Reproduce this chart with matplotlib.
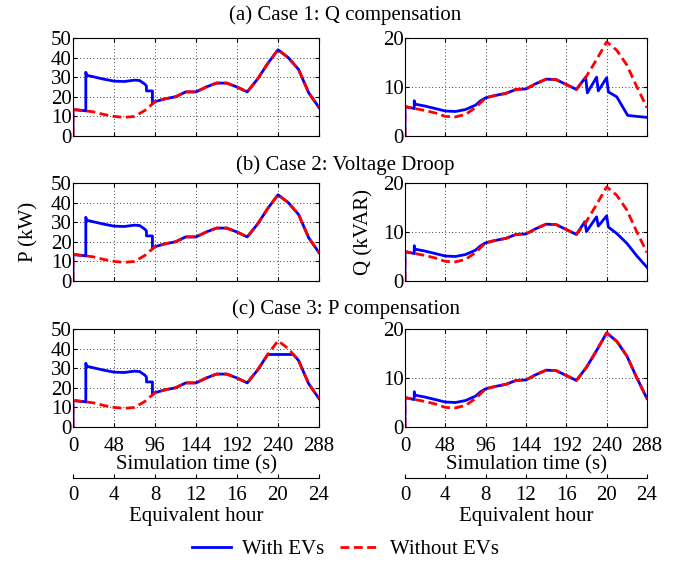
import numpy as np
import matplotlib
matplotlib.use('Agg')
import matplotlib.pyplot as plt

plt.rcParams['font.family'] = ['Liberation Serif', 'DejaVu Serif']
plt.rcParams['font.size'] = 15

# Simulation time (s); 12 s = 1 equivalent hour
t_base = [0, 0, 12, 24, 36, 48, 60, 72, 84, 96, 108, 120, 132, 144, 156,
          168, 180, 192, 204, 216, 228, 240, 252, 264, 276, 288]

# Without EVs
p_noev = [0, 13.5, 13, 12.3, 11, 10, 9.5, 10, 13, 17.5, 19, 20, 22.5, 22.5, 25,
          27, 27, 25, 22.5, 29, 37, 44, 40, 34, 22, 14.5]
q_noev = [0, 6, 5.6, 5.2, 4.7, 4.0, 3.9, 4.4, 5.8, 7.8, 8.3, 8.7, 9.5, 9.6, 10.7,
          11.6, 11.5, 10.5, 9.5, 12.2, 15.6, 19.2, 17.5, 14.5, 10, 5.8]

# With EVs, P: charging block in the morning (all cases)
t_p_morning = [0, 0, 12, 15, 15, 16, 24, 36, 48, 60, 72, 78, 84, 86, 86, 93, 93]
p_morning = [0, 13.5, 13, 12.8, 32.5, 31, 30.2, 29, 28, 27.8, 28.5, 28.3, 26.5,
             25.5, 23, 23, 16.5]

# Case 3 caps the evening peak
t_p3_evening = [216, 228, 258, 264, 276, 288]
p3_evening = [29, 37, 37, 34, 22, 14.5]

# With EVs, Q: morning offset (all cases)
t_q_morning = [0, 0, 11, 11, 12, 24, 36, 48, 60, 72, 84, 90]
q_morning = [0, 6, 5.6, 7.2, 6.5, 6.1, 5.6, 5.1, 5.0, 5.4, 6.3, 7.2]

# Evening Q response, case 1 and case 2
t_q1_evening = [204, 215, 217, 228, 230, 240, 242, 252, 265, 276, 288]
q1_evening = [9.5, 12.0, 8.8, 12.0, 9.2, 11.9, 9.0, 8.0, 4.2, 4.0, 3.8]
t_q2_evening = [204, 214, 216, 228, 230, 240, 242, 252, 264, 276, 288]
q2_evening = [9.5, 12.1, 10.1, 13.1, 11.2, 13.3, 11.0, 9.7, 7.7, 5.1, 2.8]

titles = ['(a) Case 1: Q compensation', '(b) Case 2: Voltage Droop',
          '(c) Case 3: P compensation']
sec_ticks = [0, 48, 96, 144, 192, 240, 288]
hour_ticks = [0, 4, 8, 12, 16, 20, 24]

tb = np.array(t_base)
pn = np.array(p_noev)
qn = np.array(q_noev)


def join(t_a, v_a, t_b, v_b):
    return np.concatenate([t_a, t_b]), np.concatenate([v_a, v_b])


after96 = tb >= 96
before216 = (tb >= 96) & (tb <= 204)
p_ev = []
p_ev.append(join(t_p_morning, p_morning, tb[after96], pn[after96]))
p_ev.append(join(t_p_morning, p_morning, tb[after96], pn[after96]))
p_ev.append(join(*join(t_p_morning, p_morning, tb[before216], pn[before216]),
                 t_p3_evening, p3_evening))

mid_q = (tb >= 96) & (tb < 204)
q_ev = []
q_ev.append(join(*join(t_q_morning, q_morning, tb[mid_q], qn[mid_q]),
                 t_q1_evening, q1_evening))
q_ev.append(join(*join(t_q_morning, q_morning, tb[mid_q], qn[mid_q]),
                 t_q2_evening, q2_evening))
q_ev.append(join(t_q_morning, q_morning, tb[after96], qn[after96]))

fig = plt.figure(figsize=(6.91, 5.63), dpi=100)

col_x = [73 / 691., 405 / 691.]
col_w = [246 / 691., 242 / 691.]
row_top = [38, 183, 329]
row_h = 98
title_y = [15, 165, 309]

red_dash = (0, (3.2, 1.6))

for r in range(3):
    for c in range(2):
        ax = fig.add_axes([col_x[c], 1 - (row_top[r] + row_h) / 563., col_w[c], row_h / 563.])
        if c == 0:
            t_ev, v_ev = p_ev[r]
            v_no = pn
            ax.set_ylim(0, 50)
            ax.set_yticks([0, 10, 20, 30, 40, 50])
        else:
            t_ev, v_ev = q_ev[r]
            v_no = qn
            ax.set_ylim(0, 20)
            ax.set_yticks([0, 10, 20])
        l1, = ax.plot(t_ev, v_ev, color='#0000ff', lw=2, label='With EVs')
        l2, = ax.plot(tb, v_no, color='#ff0000', lw=2, linestyle=red_dash, label='Without EVs')
        ax.set_xlim(0, 288)
        ax.set_xticks(sec_ticks)
        ax.grid(True, color='k', linestyle=(0, (1, 3)), lw=0.6)
        ax.tick_params(direction='in', top=True, right=True, length=3, pad=1, labelsize=15)
        ax.tick_params(axis='x', pad=7)
        if r < 2:
            ax.set_xticklabels([])
        else:
            ax.set_xlabel('Simulation time (s)', labelpad=0)
        if r == 1:
            ax.set_ylabel('P (kW)' if c == 0 else 'Q (kVAR)', labelpad=9 if c == 0 else 7)

        if r == 2:
            # equivalent-hour axis underneath
            hx = fig.add_axes([col_x[c], 1 - 478 / 563., col_w[c], 0.0001])
            for s in ['left', 'right', 'top']:
                hx.spines[s].set_visible(False)
            hx.set_yticks([])
            hx.set_xlim(0, 24)
            hx.set_xticks(hour_ticks)
            hx.tick_params(direction='in', length=3, pad=6, labelsize=15)
            hx.set_xlabel('Equivalent hour', labelpad=1)

    fig.text(0.5, 1 - title_y[r] / 563., titles[r], ha='center', va='center', fontsize=15)

fig.legend([l1, l2], ['With EVs', 'Without EVs'], loc='center', ncol=2,
           bbox_to_anchor=(0.5, 1 - 549 / 563.), frameon=False, fontsize=15,
           handlelength=1.9, columnspacing=0.8, handletextpad=0.5)

fig.savefig('out.png', dpi=100)
